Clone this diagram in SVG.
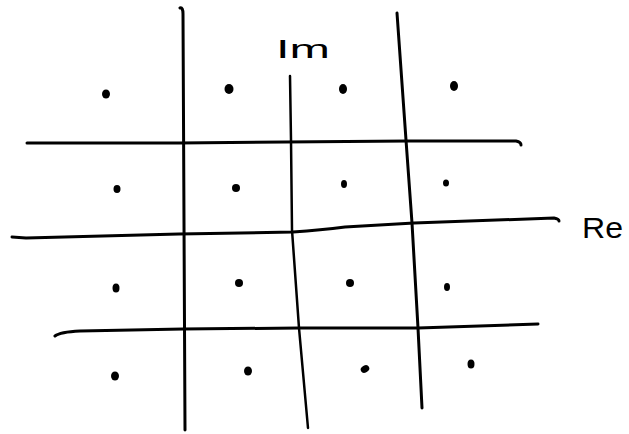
<svg xmlns="http://www.w3.org/2000/svg" width="629" height="434" viewBox="0 0 629 434">
<style>
.ln{fill:none;stroke:#000;stroke-width:3;stroke-linecap:round;stroke-linejoin:round}
.ax{fill:none;stroke:#000;stroke-width:2.5;stroke-linecap:round;stroke-linejoin:round}
.dot{fill:#000}
.lbl{font-family:"Liberation Sans","DejaVu Sans",sans-serif;fill:#000}
</style>
<rect width="629" height="434" fill="#fff"/>
<g id="grid-lines">
<path class="ln" d="M180,8 Q183,7 183,14 L185,430"/>
<path class="ax" d="M290,76 L291,140 L292,230 L299,328 L308,428"/>
<path class="ln" d="M397,13 L406,140 L412,223 L418,328 L422,408"/>
<path class="ln" d="M27,143 L179,143 L408,141 L516,141 Q521,142 521,145"/>
<path class="ln" d="M12,237 L26,238 L179,234 L293,232 Q321,230 345,227 L414,223 L554,218 Q559,219 559,221"/>
<path class="ln" d="M55,336 Q60,332 80,331 L183,329 L299,328 L418,328 L538,324"/>
</g>
<g id="points">
<ellipse class="dot" cx="106" cy="94" rx="4" ry="4.5"/>
<ellipse class="dot" cx="229" cy="89" rx="4.5" ry="5"/>
<ellipse class="dot" cx="343" cy="89" rx="4" ry="5"/>
<ellipse class="dot" cx="454" cy="86" rx="4" ry="5"/>
<ellipse class="dot" cx="117" cy="189" rx="3.5" ry="4"/>
<ellipse class="dot" cx="236" cy="188" rx="4" ry="4"/>
<ellipse class="dot" cx="344" cy="184" rx="3" ry="4"/>
<ellipse class="dot" cx="446" cy="183" rx="3" ry="3.5"/>
<ellipse class="dot" cx="116" cy="288" rx="3.5" ry="4.5"/>
<ellipse class="dot" cx="239" cy="283" rx="4" ry="4"/>
<ellipse class="dot" cx="350" cy="283" rx="4" ry="4"/>
<ellipse class="dot" cx="447" cy="287" rx="3" ry="4"/>
<ellipse class="dot" cx="115" cy="376" rx="4" ry="4.5"/>
<ellipse class="dot" cx="248" cy="371" rx="4" ry="4.5"/>
<ellipse class="dot" cx="365" cy="369" rx="4.5" ry="3.5" transform="rotate(-30 365 369)"/>
<ellipse class="dot" cx="471" cy="364" rx="3.5" ry="4.5"/>
</g>
<g id="labels">
<text class="lbl" x="276" y="58" font-size="26" textLength="54" lengthAdjust="spacingAndGlyphs">Im</text>
<text class="lbl" x="582" y="238" font-size="30" textLength="41" lengthAdjust="spacingAndGlyphs">Re</text>
</g>
</svg>
